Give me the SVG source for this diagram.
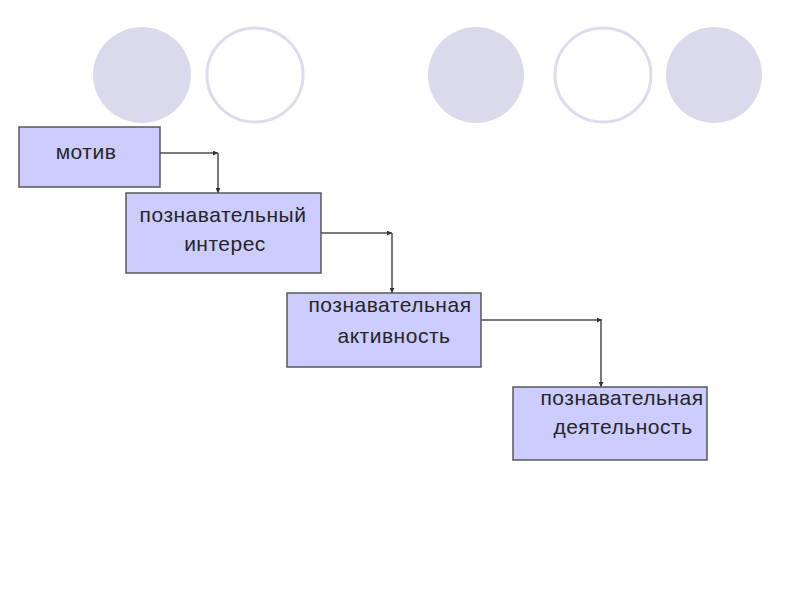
<svg xmlns="http://www.w3.org/2000/svg" width="800" height="600" viewBox="0 0 800 600">
<defs>
<style>
.box{fill:#ccccff;stroke:#595959;stroke-width:1.5}
.t{font-family:"Liberation Sans",Arial,sans-serif;font-size:21px;letter-spacing:0.5px;fill:#262626;text-anchor:middle}
.dot{fill:#dadaec}
.ring{fill:#ffffff;stroke:#dcdcee;stroke-width:3}
.c{fill:none;stroke:#4d4d4d;stroke-width:1.5}
</style>
<marker id="ah" viewBox="0 0 6 6" refX="6" refY="3" markerWidth="5" markerHeight="5" orient="auto" markerUnits="userSpaceOnUse">
<path d="M0,0 L6,3 L0,6 z" fill="#333333"/>
</marker>
</defs>
<rect width="800" height="600" fill="#ffffff"/>
<g id="decor">
<ellipse class="dot" cx="142" cy="75" rx="49" ry="48"/>
<ellipse class="ring" cx="255" cy="75" rx="48" ry="47"/>
<ellipse class="dot" cx="476" cy="75" rx="48" ry="48"/>
<ellipse class="ring" cx="603" cy="75" rx="48" ry="47"/>
<ellipse class="dot" cx="714" cy="75" rx="48" ry="48"/>
</g>
<g id="connectors">
<path class="c" d="M160,153 H218" marker-end="url(#ah)"/>
<path class="c" d="M218,153 V193" marker-end="url(#ah)"/>
<path class="c" d="M321,233 H392" marker-end="url(#ah)"/>
<path class="c" d="M392,233 V293" marker-end="url(#ah)"/>
<path class="c" d="M481,320 H602" marker-end="url(#ah)"/>
<path class="c" d="M601,320 V387" marker-end="url(#ah)"/>
</g>
<g id="n1">
<rect class="box" x="19" y="127" width="141" height="60"/>
<text class="t" x="86" y="159">мотив</text>
</g>
<g id="n2">
<rect class="box" x="126" y="193" width="195" height="80"/>
<text class="t" x="223" y="222">познавательный</text>
<text class="t" x="225" y="251">интерес</text>
</g>
<g id="n3">
<rect class="box" x="287" y="293" width="194" height="74"/>
<text class="t" x="390" y="312">познавательная</text>
<text class="t" x="394" y="343">активность</text>
</g>
<g id="n4">
<rect class="box" x="513" y="387" width="194" height="73"/>
<text class="t" x="622" y="405">познавательная</text>
<text class="t" x="623" y="434">деятельность</text>
</g>
</svg>
